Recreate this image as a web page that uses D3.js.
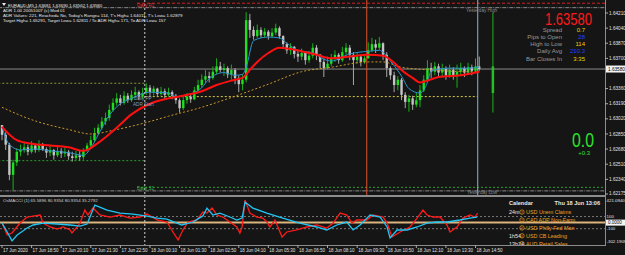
<!DOCTYPE html>
<html>
<head>
<meta charset="utf-8">
<script src="https://cdn.jsdelivr.net/npm/d3@7"></script>
<style>
  body { margin: 0; background: #151515; }
  svg text { font-family: "Liberation Sans", Arial, sans-serif; }
</style>
</head>
<body>
<svg id="chart"></svg>
<script>
// ---- data (EURAUD, 10-min bars) ----
const firstOpen = 1.6295;
const closes = [1.6284,1.6273,1.6239,1.6253,1.6265,1.6267,1.6270,1.6265,1.6272,1.6267,
1.6273,1.6268,1.6264,1.6267,1.6261,1.6266,1.6263,1.6265,1.6260,1.6258,
1.6261,1.6259,1.6267,1.6272,1.6278,1.6286,1.6292,1.6299,1.6303,1.6312,
1.6320,1.6325,1.6320,1.6328,1.6323,1.6329,1.6332,1.6327,1.6331,1.6337,
1.6332,1.6336,1.6330,1.6333,1.6329,1.6332,1.6328,1.6323,1.6314,1.6323,
1.6327,1.6324,1.6334,1.6340,1.6346,1.6350,1.6348,1.6355,1.6361,1.6357,
1.6359,1.6352,1.6357,1.6348,1.6341,1.6346,1.6413,1.6402,1.6395,1.6402,
1.6396,1.6400,1.6395,1.6399,1.6404,1.6395,1.6386,1.6379,1.6383,1.6375,
1.6372,1.6376,1.6368,1.6373,1.6382,1.6374,1.6366,1.6359,1.6364,1.6370,
1.6374,1.6368,1.6377,1.6382,1.6374,1.6368,1.6372,1.6366,1.6370,1.6379,
1.6386,1.6382,1.6387,1.6374,1.6359,1.6351,1.6340,1.6346,1.6329,1.6321,
1.6325,1.6318,1.6323,1.6334,1.6346,1.6359,1.6355,1.6361,1.6354,1.6358,
1.6351,1.6357,1.6350,1.6355,1.6359,1.6354,1.6360,1.6356,1.6361,1.6358];
const highs = [1.6295,1.6287,1.6275,1.6256,1.6269,1.6273,1.6276,1.6273,1.6277,1.6274,
1.6278,1.6275,1.6270,1.6272,1.6268,1.6272,1.6269,1.6270,1.6267,1.6265,
1.6266,1.6266,1.6269,1.6275,1.6283,1.6292,1.6296,1.6304,1.6309,1.6318,
1.6325,1.6331,1.6329,1.6333,1.6331,1.6334,1.6338,1.6334,1.6337,1.6342,
1.6340,1.6339,1.6337,1.6338,1.6336,1.6337,1.6334,1.6330,1.6325,1.6328,
1.6331,1.6330,1.6338,1.6346,1.6352,1.6357,1.6355,1.6361,1.6370,1.6366,
1.6364,1.6361,1.6363,1.6359,1.6351,1.6352,1.6422,1.6420,1.6406,1.6408,
1.6405,1.6404,1.6402,1.6404,1.6409,1.6406,1.6396,1.6388,1.6387,1.6384,
1.6379,1.6381,1.6377,1.6378,1.6387,1.6385,1.6375,1.6370,1.6372,1.6375,
1.6379,1.6376,1.6383,1.6387,1.6385,1.6377,1.6376,1.6374,1.6375,1.6388,
1.6393,1.6391,1.6394,1.6388,1.6377,1.6361,1.6355,1.6350,1.6348,1.6332,
1.6329,1.6328,1.6331,1.6340,1.6351,1.6368,1.6365,1.6366,1.6364,1.6364,
1.6361,1.6363,1.6360,1.6363,1.6365,1.6361,1.6365,1.6363,1.6370,1.6372];
const lows = [1.6278,1.6267,1.6233,1.6222,1.6249,1.6260,1.6264,1.6261,1.6263,1.6264,
1.6265,1.6266,1.6258,1.6260,1.6256,1.6259,1.6258,1.6259,1.6256,1.6254,
1.6255,1.6255,1.6256,1.6265,1.6269,1.6276,1.6284,1.6290,1.6295,1.6300,
1.6310,1.6317,1.6317,1.6318,1.6320,1.6321,1.6325,1.6323,1.6324,1.6329,
1.6327,1.6328,1.6327,1.6328,1.6325,1.6327,1.6324,1.6319,1.6309,1.6312,
1.6319,1.6320,1.6323,1.6332,1.6337,1.6342,1.6343,1.6346,1.6352,1.6354,
1.6350,1.6348,1.6346,1.6341,1.6332,1.6334,1.6343,1.6393,1.6391,1.6393,
1.6393,1.6393,1.6391,1.6393,1.6396,1.6392,1.6382,1.6375,1.6374,1.6370,
1.6366,1.6368,1.6363,1.6365,1.6370,1.6368,1.6359,1.6349,1.6357,1.6361,
1.6366,1.6364,1.6366,1.6374,1.6368,1.6340,1.6364,1.6361,1.6364,1.6370,
1.6377,1.6376,1.6379,1.6368,1.6349,1.6346,1.6332,1.6334,1.6323,1.6314,
1.6310,1.6312,1.6315,1.6315,1.6332,1.6343,1.6348,1.6351,1.6348,1.6349,
1.6346,1.6348,1.6346,1.6337,1.6351,1.6349,1.6352,1.6351,1.6355,1.6356];

// moving averages (bar index, price)
const redMaIdx = [0,4,8,13,18,22,26,31,35,40,45,49,54,58,62,65,67,69,72,75,81,85,89,94,99,103,106,108,111,113,115,118,124,129];
const redMa = [1.6293,1.6278,1.6274,1.6272,1.6270,1.6266,1.6275,1.6292,1.6307,1.6319,1.6325,1.6328,1.6333,1.6340,1.6345,1.6348,1.6357,1.6366,1.6376,1.6382,1.6378,1.6374,1.6370,1.6372,1.6374,1.6373,1.6365,1.6357,1.6348,1.6343,1.6345,1.6349,1.6351,1.6355];
const blueMaIdx = [0,2,5,9,13,18,22,24,26,29,32,35,40,45,47,50,54,56,60,63,65,66,68,72,75,77,80,84,87,89,94,99,102,105,108,110,113,115,116,121,126,129];
const blueMa = [1.6293,1.6273,1.6267,1.6268,1.6266,1.6264,1.6261,1.6269,1.6284,1.6306,1.6319,1.6325,1.6332,1.6331,1.6327,1.6329,1.6337,1.6347,1.6354,1.6351,1.6352,1.6360,1.6390,1.6394,1.6393,1.6387,1.6379,1.6376,1.6369,1.6367,1.6375,1.6378,1.6379,1.6367,1.6350,1.6336,1.6331,1.6343,1.6356,1.6359,1.6359,1.6360];
const slowMaIdx = [0,8,18,24,31,40,45,54,62,72,81,89,99,103,108,116,126,129];
const slowMa = [1.6315,1.6301,1.6290,1.6285,1.6290,1.6299,1.6305,1.6315,1.6326,1.6341,1.6355,1.6360,1.6366,1.6366,1.6360,1.6357,1.6355,1.6355];

// OsMA/CCI sub window
const cciBlueIdx = [0,1.4,2.7,4.1,6.8,8.4,11.1,14.9,18.4,21.1,23.0,25.1,28.4,31.9,35.4,39.2,41.9,44.6,47.3,48.6,51.6,54.3,55.4,57.0,58.9,61.6,63.5,64.9,65.7,67.8,71.6,75.9,80.5,85.1,87.8,90.5,93.2,94.9,96.8,99.5,102.2,104.1,104.9,106.8,109.5,112.2,114.9,117.6,120.3,123.8,126.5,128.4];
const cciBlue = [-7,-154,-300,-203,-89,-39,-7,-23,-39,-56,-23,289,207,157,141,108,75,59,-7,-39,10,110,239,125,157,92,43,75,338,239,157,75,-7,-72,-121,-39,10,-121,-39,125,92,-72,-253,-121,-121,-72,-7,10,10,43,75,92];
const cciRedIdx = [0,1.4,2.7,4.9,6.8,8.4,10.3,11.1,13.0,14.9,16.5,18.4,18.9,20.3,21.1,22.4,23.2,24.6,26.5,29.2,31.9,34.6,37.3,39.2,41.9,44.6,46.2,47.6,48.9,50.3,52.7,54.3,55.4,56.8,58.1,59.7,61.6,63.5,64.3,64.9,65.7,67.0,68.9,70.5,71.6,72.4,73.8,75.7,77.0,79.7,82.4,85.1,87.8,89.5,91.4,93.2,94.6,95.9,98.6,100.3,103.0,104.1,105.4,107.6,110.3,112.2,113.8,114.9,116.5,118.4,120.3,121.1,123.0,124.6,126.5,127.8,128.6];
const cciRed = [-7,-203,-171,-7,92,108,125,-7,-72,-105,-72,-121,-171,-72,-7,207,125,239,125,92,125,75,92,141,43,10,-154,-285,-121,10,43,174,157,239,125,92,10,-72,-171,-72,371,157,92,75,10,-72,43,-236,-154,-121,-72,-39,-89,-7,157,125,-7,43,43,125,92,-7,-236,-154,-72,75,207,125,92,92,-39,-154,-72,75,125,92,157];
const cciLevels = [100, 0, -100];
const cciTicks = ["421.0940", "100", "-100", "-302.1909"];
const cciTickVals = [421.094, 100, -100, -302.1909];

// axis labels
const timeLabels = ["17 Jun 2020","17 Jun 18:50","17 Jun 20:10","17 Jun 21:30","17 Jun 22:50",
  "18 Jun 00:10","18 Jun 01:30","18 Jun 02:50","18 Jun 04:10","18 Jun 05:30","18 Jun 06:50",
  "18 Jun 08:10","18 Jun 09:30","18 Jun 10:50","18 Jun 12:10","18 Jun 13:30","18 Jun 14:50"];
const priceTicks = [1.64210,1.64040,1.63870,1.63700,1.63360,1.63190,1.63020,1.62850,1.62680,1.62510,1.62340,1.62175];
const lastPrice = 1.63580;

// pivot / range levels
const levelNames = ["Daily R1","Yesterday High","Prev PP","Prev S1","Daily PP","Daily S1","Yesterday Low"];
const levelPrices = [1.6432,1.6427,1.6342,1.6255,1.6327,1.6225,1.6221];
const levelFrom = [36.5,-1,-1,-1,38.6,36.5,-1];
const levelTo = [164,164,38.6,38.6,128.6,164,164];

// vertical markers (bar index)
const dayBreak = 38.6, eventBar = 98.6, nowBar = 128.6, adrBar = 132.7;
const todayHigh = 1.6421, todayLow = 1.6309, hourHigh = 1.6361, hourLow = 1.6331;

// calendar
const calTimes = ["24m","","","1h54","13h24"];
const calEvents = ["USD Unem Claims","CAD ADP Non-Farm","USD Philly Fed Man","USD CB Leading","AUD Retail Sales"];

// info panel
const infoLabels = ["Spread","Pips to Open","High to Low","Daily Avg","Bar Closes In"];
const infoValues = ["0.7","28","114","210.3","3:35"];
const infoColors = ["#f0d000","#2040ff","#f0d000","#2040ff","#f0d000"];

// ---- drawing ----
const W = 625, H = 255;
const svg = d3.select("#chart").attr("width", W).attr("height", H);
svg.append("rect").attr("width", W).attr("height", H).attr("fill", "#151515");

const x = d3.scaleLinear().domain([0, 163]).range([2, 605]);
const y = d3.scaleLinear().domain([1.62175, 1.64210]).range([194, 13]);
const yc = d3.scaleLinear().domain([-302.1909, 421.094]).range([241, 197]);

const defs = svg.append("defs");
defs.append("clipPath").attr("id", "mainClip").append("rect")
  .attr("x", 0).attr("y", 0).attr("width", 605).attr("height", 195);
defs.append("clipPath").attr("id", "subClip").append("rect")
  .attr("x", 0).attr("y", 197).attr("width", 605).attr("height", 48);

const main = svg.append("g").attr("clip-path", "url(#mainClip)");
const sub = svg.append("g").attr("clip-path", "url(#subClip)");

// horizontal levels
const levelStyle = [
  { c: "#d42020", d: "3,2" },
  { c: "#8a8a8a", d: "4,1,1,1" },
  { c: "#8c9a30", d: "2,2" },
  { c: "#2f9a2f", d: "2,2" },
  { c: "#d8cc3a", d: "2,2" },
  { c: "#2fa02f", d: "2,2" },
  { c: "#8a8a8a", d: "4,1,1,1" }
];
levelPrices.forEach((p, k) => {
  main.append("line")
    .attr("x1", x(levelFrom[k])).attr("x2", x(levelTo[k]))
    .attr("y1", y(p)).attr("y2", y(p))
    .attr("stroke", levelStyle[k].c).attr("stroke-width", 1)
    .attr("stroke-dasharray", levelStyle[k].d);
});

// bid line
main.append("line").attr("x1", 0).attr("x2", 605)
  .attr("y1", y(lastPrice)).attr("y2", y(lastPrice))
  .attr("stroke", "#8c8c8c").attr("stroke-width", 1);

// vertical lines
svg.append("line").attr("x1", x(dayBreak)).attr("x2", x(dayBreak))
  .attr("y1", 0).attr("y2", 245).attr("stroke", "#cfcfcf")
  .attr("stroke-dasharray", "2,2").attr("stroke-width", 1);
main.append("line").attr("x1", x(eventBar)).attr("x2", x(eventBar))
  .attr("y1", 0).attr("y2", 195).attr("stroke", "#e0502a").attr("stroke-width", 1);
main.append("line").attr("x1", x(nowBar)).attr("x2", x(nowBar))
  .attr("y1", 0).attr("y2", 195).attr("stroke", "#8fb4d0").attr("stroke-width", 1);

// candles
const opens = closes.map((c, i) => i === 0 ? firstOpen : closes[i - 1]);
const bars = closes.map((c, i) => ({ i: i, o: opens[i], h: highs[i], l: lows[i], c: c }));
const bull = "#1ee01e", bear = "#c4c4c4";
main.append("g").selectAll("line").data(bars).join("line")
  .attr("x1", d => x(d.i)).attr("x2", d => x(d.i))
  .attr("y1", d => y(d.h)).attr("y2", d => y(d.l))
  .attr("stroke", d => d.c >= d.o ? "#18b018" : "#a8a8a8").attr("stroke-width", 1);
main.append("g").selectAll("rect").data(bars).join("rect")
  .attr("x", d => x(d.i) - 1.2).attr("width", 2.4)
  .attr("y", d => y(Math.max(d.o, d.c)))
  .attr("height", d => Math.max(1, Math.abs(y(d.o) - y(d.c))))
  .attr("fill", d => d.c >= d.o ? bull : bear);

// moving averages
const maLine = d3.line().x(d => x(d[0])).y(d => y(d[1])).curve(d3.curveMonotoneX);
main.append("path").datum(slowMaIdx.map((v, k) => [v, slowMa[k]]))
  .attr("d", maLine).attr("fill", "none").attr("stroke", "#c8962a")
  .attr("stroke-width", 1).attr("stroke-dasharray", "2,2");
main.append("path").datum(blueMaIdx.map((v, k) => [v, blueMa[k]]))
  .attr("d", maLine).attr("fill", "none").attr("stroke", "#2c92c8").attr("stroke-width", 1);
main.append("path").datum(redMaIdx.map((v, k) => [v, redMa[k]]))
  .attr("d", maLine).attr("fill", "none").attr("stroke", "#ff1010").attr("stroke-width", 2);

// ADR bar
main.append("line").attr("x1", x(adrBar)).attr("x2", x(adrBar))
  .attr("y1", y(todayHigh)).attr("y2", y(todayLow))
  .attr("stroke", "#22b022").attr("stroke-width", 1);
main.append("line").attr("x1", x(adrBar)).attr("x2", x(adrBar))
  .attr("y1", y(hourHigh)).attr("y2", y(hourLow))
  .attr("stroke", "#22c022").attr("stroke-width", 2.5);

// level labels
const lab = (t, px, py, col, anchor) => svg.append("text").attr("x", px).attr("y", py)
  .attr("fill", col).attr("font-size", 4.6).attr("text-anchor", anchor || "start").text(t);
lab("Daily R1", 137, 6.5, "#e03030");
lab("Daily S1", 137, 190, "#3cb043");
lab("Daily PP", 134, 99.5, "#8a9db0");
lab("ADR Start", 133, 105.5, "#8a9db0");
lab("Yesterday High", 497, 12, "#8a8a8a", "end");
lab("Yesterday Low", 497, 194, "#8a8a8a", "end");

// header
const header = [
  "EURAUD,M5  1.63681 1.63690 1.63562 1.63580",
  "ADR 1.00 20051007 (c) Mod 01",
  "ADR Values: 221, Reached= No, Today's Range= 114, T's High= 1.64011, T's Low= 1.62879",
  "Target High= 1.65291, Target Low= 1.62811 / To ADR High= 171, To ADR Low= 157"
];
svg.append("path").attr("d", "M2,3 L6,3 L4,6 Z").attr("fill", "#e8e8e8");
header.forEach((t, k) => {
  svg.append("text").attr("x", k === 0 ? 8 : 3).attr("y", 6.5 + k * 5.3)
    .attr("fill", "#e8e8e8").attr("font-size", 4.4).text(t);
});

// info panel
svg.append("text").attr("x", 592).attr("y", 25).attr("text-anchor", "end")
  .attr("fill", "#ff1a1a").attr("font-size", 16)
  .attr("textLength", 47).attr("lengthAdjust", "spacingAndGlyphs").text("1.63580");
infoLabels.forEach((t, k) => {
  svg.append("text").attr("x", 562).attr("y", 31.5 + k * 7.3).attr("text-anchor", "end")
    .attr("fill", "#9a9a9a").attr("font-size", 6).text(t);
  svg.append("text").attr("x", 585).attr("y", 31.5 + k * 7.3).attr("text-anchor", "end")
    .attr("fill", infoColors[k]).attr("font-size", 6).text(infoValues[k]);
});
svg.append("text").attr("x", 594).attr("y", 147).attr("text-anchor", "end")
  .attr("fill", "#2ee02e").attr("font-size", 20)
  .attr("textLength", 22).attr("lengthAdjust", "spacingAndGlyphs").text("0.0");
svg.append("text").attr("x", 590).attr("y", 155).attr("text-anchor", "end")
  .attr("fill", "#2ee02e").attr("font-size", 6).text("+0.3");

// pane borders
svg.append("rect").attr("x", 0).attr("y", 195).attr("width", 606).attr("height", 2).attr("fill", "#8c8c8c");
svg.append("line").attr("x1", 0).attr("x2", 606).attr("y1", 245.5).attr("y2", 245.5).attr("stroke", "#8c8c8c");
svg.append("line").attr("x1", 605.5).attr("x2", 605.5).attr("y1", 0).attr("y2", 246).attr("stroke", "#8c8c8c");

// price axis
priceTicks.forEach(p => {
  svg.append("line").attr("x1", 605).attr("x2", 608).attr("y1", y(p)).attr("y2", y(p)).attr("stroke", "#aaa");
  svg.append("text").attr("x", 609).attr("y", Math.min(y(p) + 1.6, 194.5)).attr("fill", "#e0e0e0")
    .attr("font-size", 4.7).text(p.toFixed(5));
});
svg.append("rect").attr("x", 606).attr("y", y(lastPrice) - 3.5).attr("width", 19).attr("height", 7).attr("fill", "#f4f4f4");
svg.append("text").attr("x", 608).attr("y", y(lastPrice) + 1.7).attr("fill", "#000")
  .attr("font-size", 4.7).text(lastPrice.toFixed(5));

// sub window
sub.selectAll("line.lvl").data(cciLevels).join("line").attr("class", "lvl")
  .attr("x1", 0).attr("x2", 605).attr("y1", d => yc(d)).attr("y2", d => yc(d))
  .attr("stroke", d => d === 0 ? "#dcb47c" : "#777")
  .attr("stroke-width", d => d === 0 ? 2 : 1)
  .attr("stroke-dasharray", d => d === 0 ? null : "2,2");
const cciLine = d3.line().x(d => x(d[0])).y(d => yc(d[1]));
sub.append("path").datum(cciRedIdx.map((v, k) => [v, cciRed[k]]))
  .attr("d", cciLine).attr("fill", "none").attr("stroke", "#ff1a1a").attr("stroke-width", 1.3);
sub.append("path").datum(cciBlueIdx.map((v, k) => [v, cciBlue[k]]))
  .attr("d", cciLine).attr("fill", "none").attr("stroke", "#22c4f4").attr("stroke-width", 1.3);
svg.append("text").attr("x", 3).attr("y", 202).attr("fill", "#cfcfcf").attr("font-size", 4.4)
  .text("OsMACCI (1) 65.5896 80.9354 80.9354 35.2792");

cciTicks.forEach((t, k) => {
  const ty = Math.min(Math.max(yc(cciTickVals[k]) + 1.6, 202), 243.5);
  svg.append("text").attr("x", 606.5).attr("y", ty).attr("fill", "#e0e0e0")
    .attr("font-size", 4.4).text(t);
});
svg.append("rect").attr("x", 606).attr("y", yc(0) - 3).attr("width", 19).attr("height", 6).attr("fill", "#f4f4f4");
svg.append("text").attr("x", 608).attr("y", yc(0) + 1.6).attr("fill", "#000").attr("font-size", 4.5).text("0.0000");

// calendar
const cal = sub.append("g");
cal.append("text").attr("x", 509).attr("y", 205).attr("fill", "#e8e8e8").attr("font-size", 5.6)
  .attr("font-weight", "bold").text("Calendar");
cal.append("text").attr("x", 600).attr("y", 205).attr("text-anchor", "end").attr("fill", "#e8e8e8")
  .attr("font-size", 5.6).attr("font-weight", "bold").text("Thu 18 Jun 13:06");
calEvents.forEach((t, k) => {
  const ty = 214 + k * 7.9;
  cal.append("text").attr("x", 509).attr("y", ty).attr("fill", "#e8e8e8").attr("font-size", 5.4).text(calTimes[k]);
  cal.append("circle").attr("cx", 522).attr("cy", ty - 1.9).attr("r", 2.2)
    .attr("fill", "none").attr("stroke", "#f0a020").attr("stroke-width", 0.7);
  cal.append("text").attr("x", 522).attr("y", ty - 0.1).attr("text-anchor", "middle")
    .attr("fill", "#f0a020").attr("font-size", 4).attr("font-weight", "bold").text("!");
  cal.append("text").attr("x", 526).attr("y", ty).attr("fill", "#f0a020").attr("font-size", 5.4).text(t);
});

// time axis
timeLabels.forEach((t, k) => {
  const tx = x(k * 8);
  svg.append("line").attr("x1", tx).attr("x2", tx).attr("y1", 245).attr("y2", 248).attr("stroke", "#aaa");
  svg.append("text").attr("x", tx + 1).attr("y", 252).attr("fill", "#e0e0e0")
    .attr("font-size", 4.5).text(t);
});
</script>
</body>
</html>
